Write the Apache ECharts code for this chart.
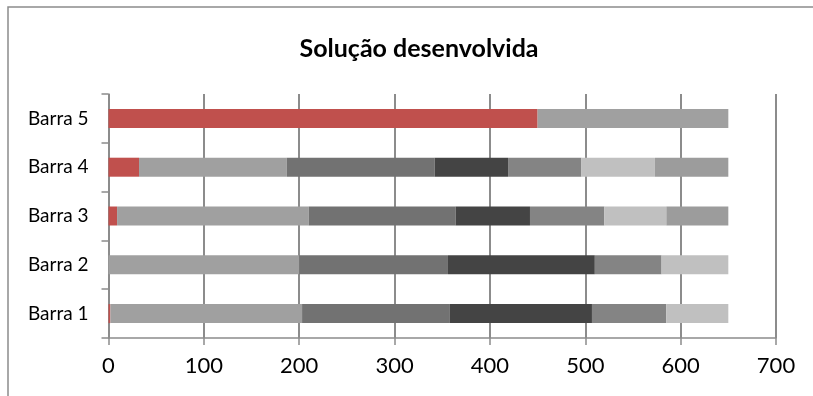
<!DOCTYPE html>
<html>
<head>
<meta charset="utf-8">
<script src="https://cdn.jsdelivr.net/npm/echarts@6/dist/echarts.min.js"></script>
<style>
  html, body { margin: 0; padding: 0; background: #fff; }
  #chart { width: 813px; height: 396px; }
</style>
</head>
<body>
<div id="chart"></div>
<script>
// Categories, bottom to top
const categories = ['Barra 1', 'Barra 2', 'Barra 3', 'Barra 4', 'Barra 5'];

// Stacked segments, one array per series (values per category, bottom to top)
const serie1 = [2, 0, 9, 32, 450];
const serie2 = [201, 200, 201, 155, 200];
const serie3 = [155, 156, 154, 155, 0];
const serie4 = [149, 154, 78, 77, 0];
const serie5 = [78, 70, 78, 77, 0];
const serie6 = [65, 70, 65, 77, 0];
const serie7 = [0, 0, 65, 77, 0];

const xTicks = [0, 100, 200, 300, 400, 500, 600, 700];

const seriesData = [serie1, serie2, serie3, serie4, serie5, serie6, serie7];
const seriesColors = ['#c0504d', '#a0a0a0', '#727272', '#444444', '#848484', '#c0c0c0', '#9c9c9c'];

const font = 'Lato, "Open Sans", sans-serif';

const chart = echarts.init(document.getElementById('chart'), null, { renderer: 'canvas' });

chart.setOption({
  animation: false,
  backgroundColor: '#ffffff',
  title: {
    text: 'Solução desenvolvida',
    left: 414,
    textAlign: 'center',
    top: 31,
    textStyle: { fontFamily: font, fontWeight: 'bold', fontSize: 25, color: '#000' }
  },
  graphic: [{
    type: 'rect',
    shape: { x: 8, y: 7, width: 812, height: 400 },
    style: { fill: 'none', stroke: '#8c8c8c', lineWidth: 1.5 },
    silent: true
  }],
  grid: { left: 108.5, right: 37, top: 94, bottom: 58, containLabel: false },
  xAxis: {
    type: 'value',
    min: xTicks[0],
    max: xTicks[xTicks.length - 1],
    interval: 100,
    axisLine: { show: true, lineStyle: { color: '#8c8c8c', width: 1.5 } },
    axisTick: { show: true, inside: false, length: 7, lineStyle: { color: '#8c8c8c', width: 1.5 } },
    splitLine: { show: true, lineStyle: { color: '#8c8c8c', width: 2 } },
    axisLabel: { fontFamily: font, fontSize: 22, color: '#000', margin: 17 }
  },
  yAxis: {
    type: 'category',
    data: categories,
    axisLine: { show: true, lineStyle: { color: '#8c8c8c', width: 1.5 } },
    axisTick: { show: true, length: 7, alignWithLabel: false, lineStyle: { color: '#8c8c8c', width: 1.5 } },
    axisLabel: { fontFamily: font, fontSize: 19, color: '#000', margin: 20 }
  },
  series: seriesData.map((d, i) => ({
    type: 'bar',
    stack: 'total',
    data: d,
    barWidth: 19,
    itemStyle: { color: seriesColors[i] },
    emphasis: { disabled: true }
  }))
});
</script>
</body>
</html>
